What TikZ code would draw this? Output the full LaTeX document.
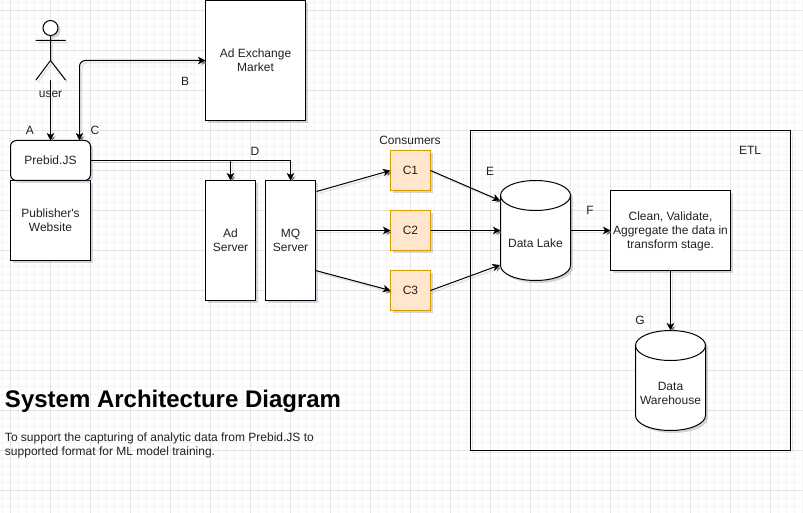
\documentclass[tikz,border=0pt]{standalone}
\usepackage{fontspec}
\setmainfont{Liberation Sans}
\usetikzlibrary{arrows.meta,shadows,calc}
\definecolor{gridmajor}{HTML}{E4E4E4}
\definecolor{gridminor}{HTML}{F5F5F5}
\definecolor{shadowtone}{HTML}{6A7490}
\definecolor{inktone}{HTML}{222222}
\definecolor{orangefill}{HTML}{FFE6CC}
\definecolor{orangeline}{HTML}{D79B00}
\newcommand{\stacked}[1]{\raisebox{-1.6pt}[\height][\depth]{\begin{tabular}{@{}c@{}}#1\end{tabular}}}
\tikzset{
  softshadow/.style={drop shadow={shadow xshift=2.5pt,shadow yshift=-2.5pt,opacity=.3,fill=shadowtone}},
  lineshadow/.style={preaction={draw=shadowtone,draw opacity=.17,line width=1.6pt,transform canvas={shift={(2pt,-2pt)}}}},
  boxnode/.style={draw=black,fill=white,line width=1pt,inner sep=0pt,outer sep=0pt,align=center,softshadow,text=inktone,font=\fontsize{12}{14}\selectfont},
  consumer/.style={boxnode,draw=orangeline,fill=orangefill,minimum width=40pt,minimum height=40pt},
  cyl/.style={draw=black,fill=white,line width=1pt},
  cylnode/.style={inner sep=0pt,outer sep=0pt,minimum width=70pt,minimum height=100pt},
  caption/.style={inner sep=0pt,outer sep=0pt,align=center,text=inktone,font=\fontsize{12}{14}\selectfont},
  conn/.style={draw=black,line width=1pt,-{Stealth[length=7.5pt,width=7.5pt,inset=2pt]},lineshadow},
  connboth/.style={draw=black,line width=1pt,{Stealth[length=7.5pt,width=7.5pt,inset=2pt]}-{Stealth[length=7.5pt,width=7.5pt,inset=2pt]},lineshadow},
  actorline/.style={draw=black,line width=1pt,line cap=round,lineshadow}
}
\begin{document}
\begin{tikzpicture}[x=1pt,y=-1pt]
\useasboundingbox (0,0) rectangle (803,513);
\fill[white] (0,0) rectangle (803,513);
% grid
\foreach \k in {0,...,100} {
  \draw[gridminor,line width=.75pt] ({10.5+8*\k-8},0) -- ({10.5+8*\k-8},513);
}
\foreach \k in {0,...,65} {
  \draw[gridminor,line width=.75pt] (0,{10.5+8*\k-8}) -- (803,{10.5+8*\k-8});
}
\foreach \k in {0,...,20} {
  \draw[gridmajor,line width=.75pt] ({10.5+40*\k},0) -- ({10.5+40*\k},513);
}
\foreach \k in {0,...,12} {
  \draw[gridmajor,line width=.75pt] (0,{10.5+40*\k}) -- (803,{10.5+40*\k});
}
% ETL frame
\draw[draw=black,line width=1pt,lineshadow] (470.5,130.5) rectangle (790.5,450.5);
% boxes
\node[boxnode,minimum width=100pt,minimum height=120pt] (exchange) at (255.5,60.5) {\stacked{Ad Exchange\\Market}};
\node[boxnode,minimum width=80pt,minimum height=80pt] (website) at (50.5,220.5) {\stacked{Publisher\textquotesingle s\\Website}};
\node[boxnode,minimum width=80pt,minimum height=40pt,rounded corners=6pt] (prebid) at (50.5,160.5) {Prebid.JS};
\node[boxnode,minimum width=50pt,minimum height=120pt] (adserver) at (230.5,240.5) {\stacked{Ad\\Server}};
\node[boxnode,minimum width=50pt,minimum height=120pt] (mq) at (290.5,240.5) {\stacked{MQ\\Server}};
\node[consumer] (c1) at (410.5,170.5) {C1};
\node[consumer] (c2) at (410.5,230.5) {C2};
\node[consumer] (c3) at (410.5,290.5) {C3};
\node[boxnode,minimum width=120pt,minimum height=80pt] (clean) at (670.5,230.5) {\stacked{Clean, Validate,\\Aggregate the data in\\transform stage.}};
% data lake
\path[cyl,softshadow] (500.5,195.5) arc[start angle=180,end angle=0,x radius=35pt,y radius=15pt] -- (570.5,265.5) arc[start angle=0,end angle=-180,x radius=35pt,y radius=15pt] -- cycle;
\draw[line width=1pt] (500.5,195.5) arc[start angle=180,end angle=360,x radius=35pt,y radius=15pt];
\node[cylnode] (lake) at (535.5,230.5) {};
\node[caption] (laketext) at (535.5,243.5) {Data Lake};
% data warehouse
\path[cyl,softshadow] (635.5,345.5) arc[start angle=180,end angle=0,x radius=35pt,y radius=15pt] -- (705.5,415.5) arc[start angle=0,end angle=-180,x radius=35pt,y radius=15pt] -- cycle;
\draw[line width=1pt] (635.5,345.5) arc[start angle=180,end angle=360,x radius=35pt,y radius=15pt];
\node[cylnode] (warehouse) at (670.5,380.5) {};
\node[caption] (warehousetext) at (670.5,393) {\stacked{Data\\Warehouse}};
% actor
\coordinate (head) at (50.5,28);
\coordinate (armL) at (36,40.5);
\coordinate (armR) at (65.5,40.5);
\coordinate (hip) at (50.5,60.5);
\coordinate (legL) at (36,80);
\coordinate (legR) at (65.5,80);
\coordinate (foot) at (50.5,80);
\draw[actorline] ($(head)+(0,7.5)$) -- (hip) -- (legL) (hip) -- (legR) (armL) -- (armR);
\path[cyl,softshadow] (head) circle[radius=7.5pt];
\node[caption] (user) at (50.5,94.5) {user};
% connectors
\draw[conn] (foot) -- (prebid.north);
\coordinate (cfoot) at (79.5,140.5);
\draw[connboth,rounded corners=6pt] (cfoot) |- (exchange.west);
\draw[conn] (prebid.east) -| (adserver.north);
\draw[conn] (prebid.east) -| (mq.north);
\coordinate (mqa) at (316.5,191.5);
\coordinate (mqb) at (315.5,230.5);
\coordinate (mqc) at (315.5,270.5);
\draw[conn] (mqa) -- (c1.west);
\draw[conn] (mqb) -- (c2.west);
\draw[conn] (mqc) -- (c3.west);
\coordinate (lakea) at (500,200.5);
\coordinate (lakec) at (500,265);
\draw[conn] (c1.east) -- (lakea);
\draw[conn] (c2.east) -- (lake.west);
\draw[conn] (c3.east) -- (lakec);
\draw[conn] (lake.east) -- (clean.west);
\draw[conn] (clean.south) -- (warehouse.north);
% labels
\node[caption] (la) at (30,130.5) {A};
\node[caption] (lb) at (185,81) {B};
\node[caption] (lc) at (95,130.5) {C};
\node[caption] (ld) at (255,151) {D};
\node[caption] (le) at (490,171) {E};
\node[caption] (lf) at (590,210.5) {F};
\node[caption] (lg) at (640,320.5) {G};
\node[caption] (letl) at (750,150.5) {ETL};
\node[caption] (lcons) at (410,140.5) {Consumers};
% title
\node[anchor=base west,inner sep=0pt,outer sep=0pt,text=black,font=\fontsize{24}{28}\selectfont\bfseries] (title) at (5,407) {System Architecture Diagram};
\node[anchor=north west,inner sep=0pt,outer sep=0pt,align=left,text=inktone,font=\fontsize{12}{14}\selectfont] (desc) at (5,432.5) {To support the capturing of analytic data from Prebid.JS to\\supported format for ML model training.};
\end{tikzpicture}
\end{document}
